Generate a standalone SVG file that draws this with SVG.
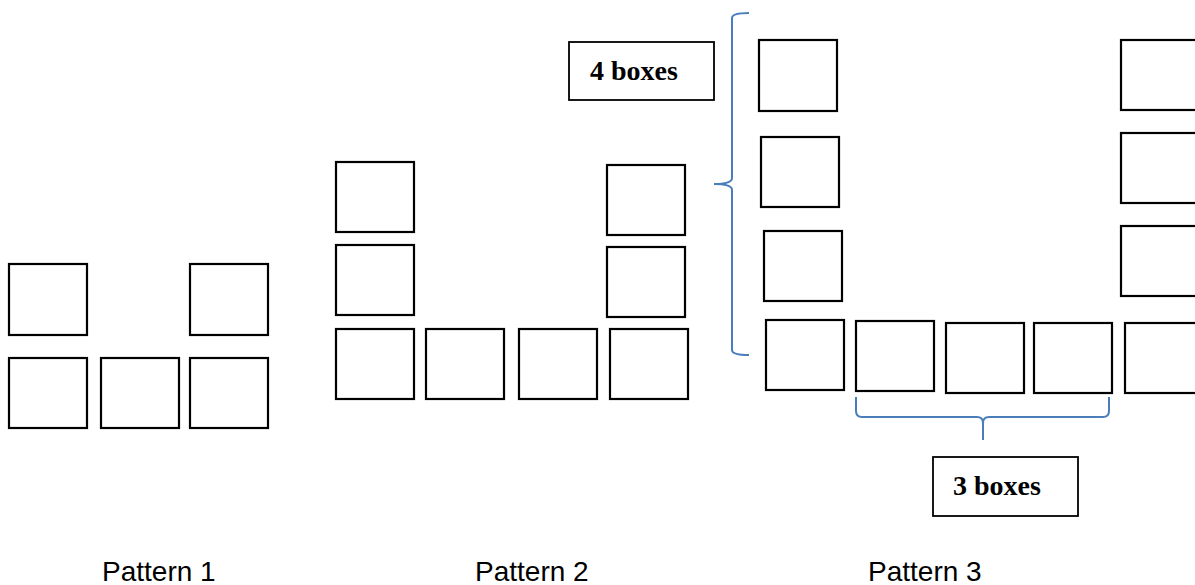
<svg xmlns="http://www.w3.org/2000/svg" width="1195" height="585" viewBox="0 0 1195 585">
<style>
.b{fill:#fff;stroke:#000;stroke-width:2.2}
.lbl{fill:#fff;stroke:#000;stroke-width:1.8}
.br{fill:none;stroke:#4a7ebb;stroke-width:2}
.t{font-family:"Liberation Serif",serif;font-weight:bold;font-size:28px;fill:#000}
.p{font-family:"Liberation Sans",Arial,sans-serif;font-size:28px;fill:#000}
</style>
<rect width="1195" height="585" fill="#fff"/>
<g id="pattern1">
<rect class="b" x="9" y="264" width="78" height="71"/>
<rect class="b" x="190" y="264" width="78" height="71"/>
<rect class="b" x="9" y="358" width="78" height="70"/>
<rect class="b" x="101" y="358" width="78" height="70"/>
<rect class="b" x="190" y="358" width="78" height="70"/>
</g>
<g id="pattern2">
<rect class="b" x="336" y="162" width="78" height="70"/>
<rect class="b" x="336" y="245" width="78" height="70"/>
<rect class="b" x="336" y="329" width="78" height="70"/>
<rect class="b" x="426" y="329" width="78" height="70"/>
<rect class="b" x="519" y="329" width="78" height="70"/>
<rect class="b" x="610" y="329" width="78" height="70"/>
<rect class="b" x="607" y="165" width="78" height="70"/>
<rect class="b" x="607" y="247" width="78" height="70"/>
</g>
<g id="pattern3">
<rect class="b" x="759" y="40" width="78" height="71"/>
<rect class="b" x="761" y="137" width="78" height="70"/>
<rect class="b" x="764" y="231" width="78" height="70"/>
<rect class="b" x="766" y="320" width="78" height="70"/>
<rect class="b" x="856" y="321" width="78" height="70"/>
<rect class="b" x="946" y="323" width="78" height="70"/>
<rect class="b" x="1034" y="323" width="78" height="70"/>
<rect class="b" x="1125" y="323" width="78" height="70"/>
<rect class="b" x="1121" y="40" width="78" height="70"/>
<rect class="b" x="1121" y="133" width="78" height="70"/>
<rect class="b" x="1121" y="226" width="78" height="70"/>
</g>
<g id="connectors">
<path class="br" d="M749,13 Q732,13 732,18 L732,178 Q732,184 714,184 Q732,184 732,190 L732,350 Q732,355 749,355"/>
<path class="br" d="M856,397 L856,411 Q856,417 862,417 L977,417 Q983,417 983,423 L983,440 M983,423 Q983,417 989,417 L1103,417 Q1109,417 1109,411 L1109,397"/>
</g>
<g id="label-4boxes">
<rect class="lbl" x="569" y="42" width="145" height="58"/>
<text class="t" x="590" y="80">4 boxes</text>
</g>
<g id="label-3boxes">
<rect class="lbl" x="933" y="457" width="145" height="59"/>
<text class="t" x="953" y="495">3 boxes</text>
</g>
<g id="captions">
<text class="p" x="102" y="581">Pattern 1</text>
<text class="p" x="475" y="581">Pattern 2</text>
<text class="p" x="868" y="581">Pattern 3</text>
</g>
</svg>
